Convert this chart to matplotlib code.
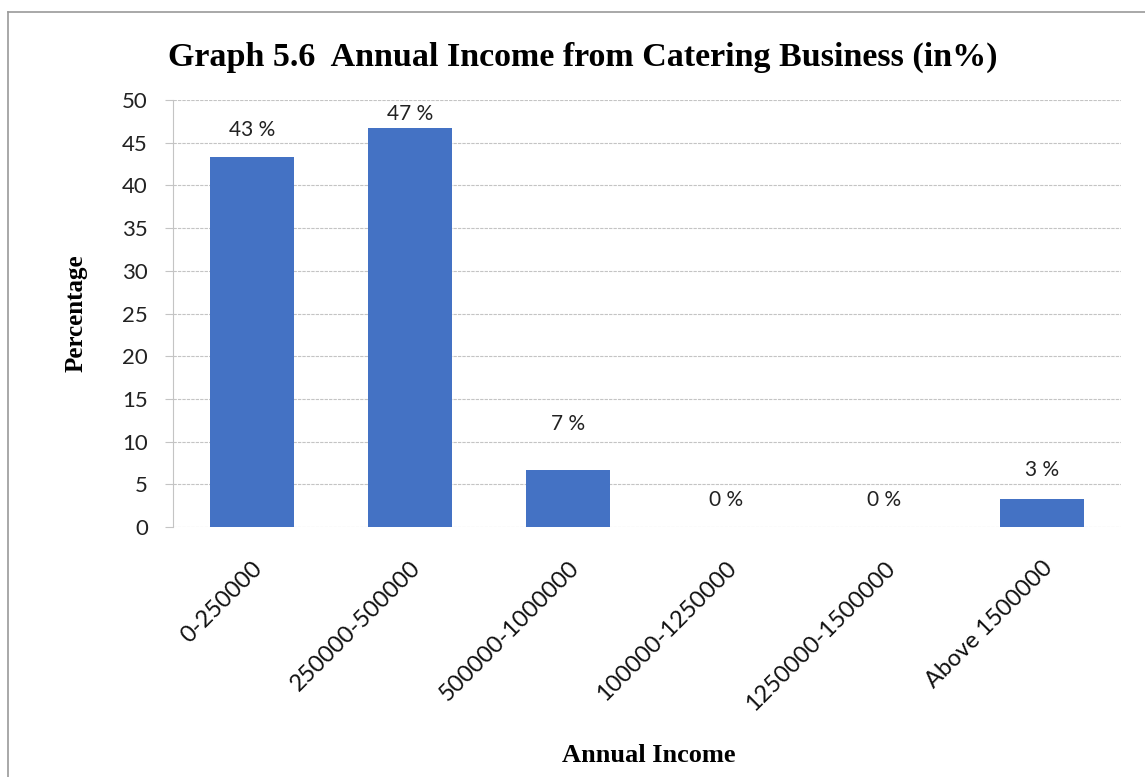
import matplotlib
matplotlib.use("Agg")
import matplotlib.pyplot as plt
from matplotlib.lines import Line2D

categories = ["0-250000", "250000-500000", "500000-1000000",
              "100000-1250000", "1250000-1500000", "Above 1500000"]
percentages = [43.33, 46.67, 6.67, 0.0, 0.0, 3.33]
y_ticks = [0, 5, 10, 15, 20, 25, 30, 35, 40, 45, 50]

# vertical gap (in axis units) between each bar top and its value label
label_gap = [2.0, 0.5, 4.2, 2.0, 2.0, 2.2]

bar_color = "#4472C4"
grid_color = "#C4C4C4"
sans = ["Lato", "Open Sans", "DejaVu Sans"]
serif = ["Liberation Serif", "DejaVu Serif"]

fig = plt.figure(figsize=(11.45, 7.77), dpi=100)
fig.patch.set_facecolor("white")

# Chart border (top and left edges)
fig.add_artist(Line2D([0.007, 1.0], [0.9846, 0.9846], transform=fig.transFigure,
                      color="#9A9A9A", linewidth=1.2))
fig.add_artist(Line2D([0.007, 0.007], [0.0, 0.9846], transform=fig.transFigure,
                      color="#9A9A9A", linewidth=1.2))

ax = fig.add_axes([0.151, 0.3217, 0.828, 0.5496])
x = list(range(len(categories)))
ax.bar(x, percentages, width=0.53, color=bar_color, zorder=3)

for xi, v, g in zip(x, percentages, label_gap):
    ax.text(xi, v + g, f"{round(v)} %", ha="center", va="bottom",
            fontsize=15, family=sans, color="#222222")

ax.set_xlim(-0.5, len(categories) - 0.5)
ax.set_ylim(0, 50)
ax.set_yticks(y_ticks)
ax.set_yticklabels([str(t) for t in y_ticks], fontsize=16, family=sans, color="#222222")
ax.set_xticks(x)
ax.set_xticklabels(categories, rotation=45, ha="right", rotation_mode="anchor",
                   fontsize=17, family=sans, color="#111111")
ax.tick_params(axis="x", length=0, pad=22)
ax.tick_params(axis="y", length=6, width=0.8, color=grid_color, pad=12, direction="out")

ax.yaxis.grid(True, color=grid_color, linestyle=(0, (3, 1)), linewidth=0.8, zorder=0)
for side in ("top", "right", "bottom"):
    ax.spines[side].set_visible(False)
ax.spines["left"].set_color(grid_color)
ax.spines["left"].set_linestyle((0, (3, 1)))
ax.spines["left"].set_linewidth(0.8)

ax.set_ylabel("Percentage", fontsize=18, fontweight="bold", family=serif)
ax.yaxis.set_label_coords(-0.0895, 0.5)
fig.text(0.567, 0.028, "Annual Income", ha="center", va="center",
         fontsize=19, fontweight="bold", family=serif)

fig.text(0.509, 0.926, "Graph 5.6  Annual Income from Catering Business (in%)",
         ha="center", va="center", fontsize=24.5, fontweight="bold", family=serif)

fig.savefig("out.png", dpi=100, facecolor="white")
